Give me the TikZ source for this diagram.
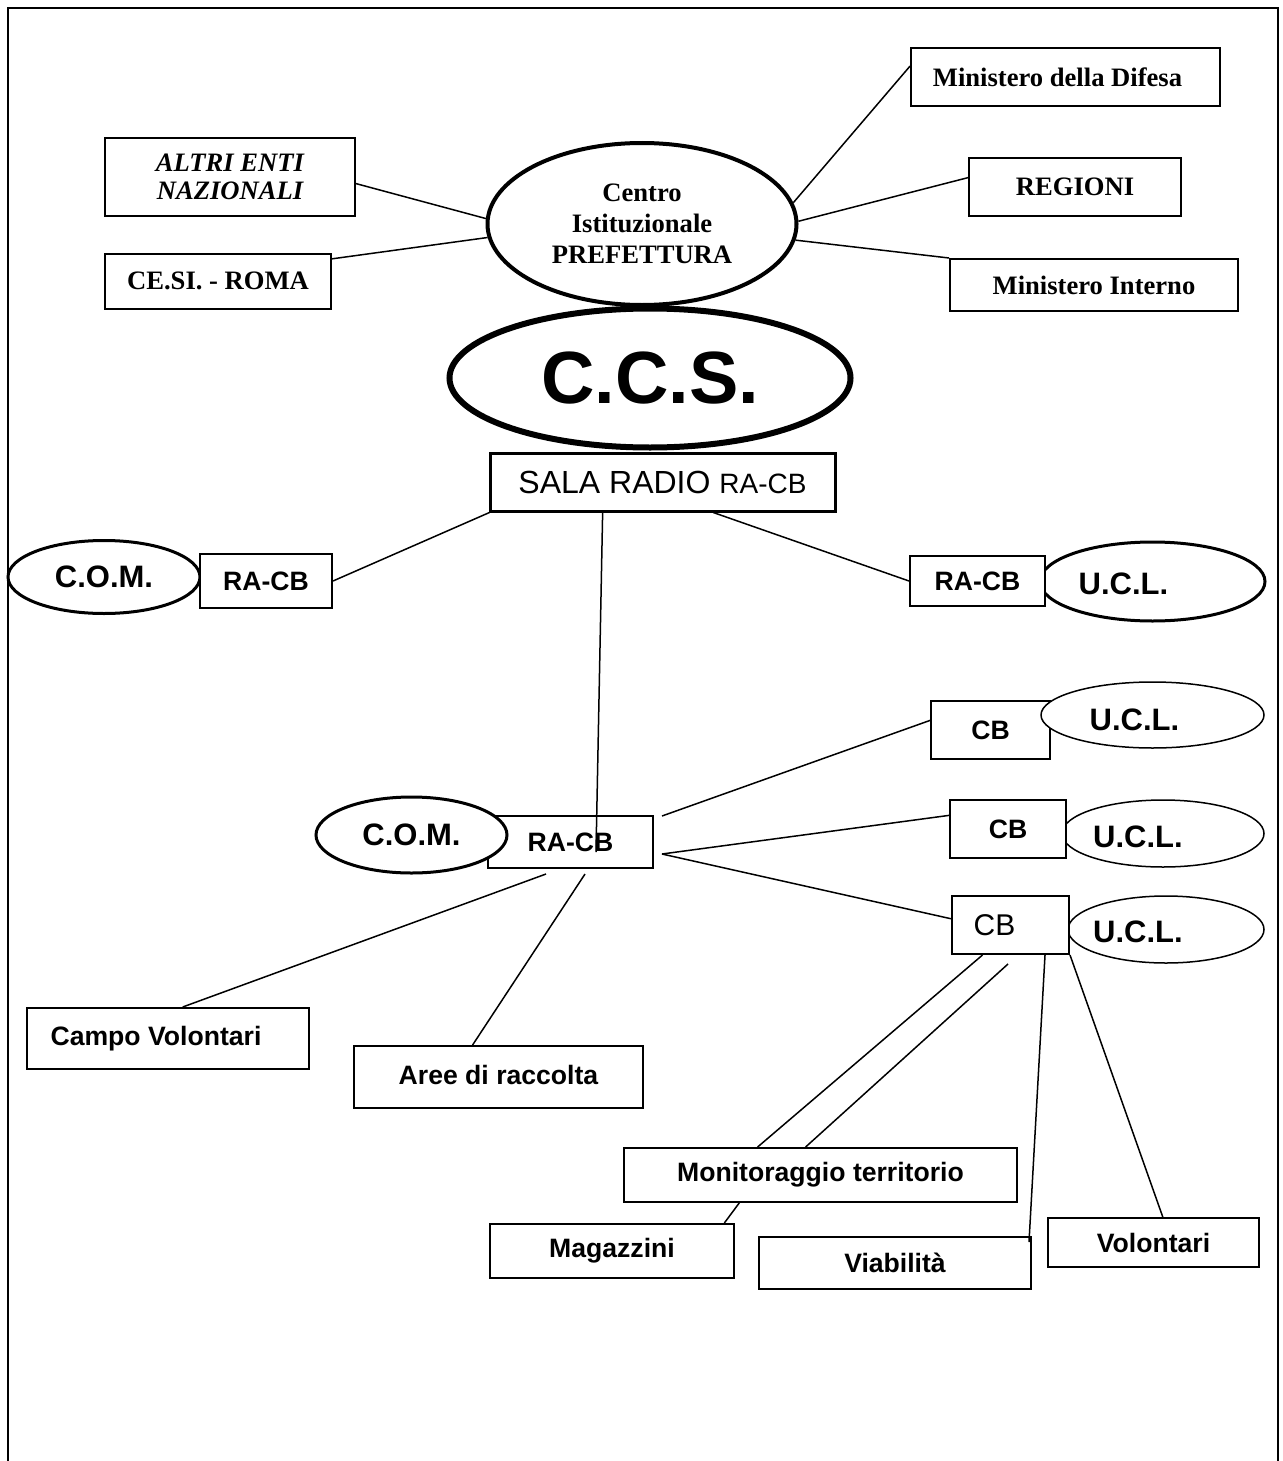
\documentclass[tikz,border=0pt]{standalone}
\usepackage{fontspec}
\setmainfont{Liberation Serif}
\newfontfamily\arialf{Liberation Sans}
\usetikzlibrary{shapes.geometric,calc}
\begin{document}
\begin{tikzpicture}[x=0.5pt,y=-0.5pt,
  box/.style={draw,line width=1pt,fill=white,inner sep=0pt,align=center},
  oval/.style={draw,ellipse,fill=white,inner sep=0pt,align=center},
  serifb/.style={font=\fontsize{13.3}{15.5}\selectfont\bfseries},
  serifbi/.style={font=\fontsize{13.3}{14}\selectfont\bfseries\itshape},
  sansb/.style={font=\arialf\fontsize{13.3}{16}\selectfont\bfseries},
  bigsans/.style={font=\arialf\fontsize{15.5}{18}\selectfont\bfseries},
  link/.style={line width=0.75pt},
]
\useasboundingbox (0,0) rectangle (1282,1461);
\draw[line width=1pt] (8,1461) -- (8,8) -- (1278,8) -- (1278,1461);

% top level
\node[box,serifb,minimum width=154.5pt,minimum height=29pt] (difesa) at (1065.5,77) {Ministero della Difesa\hspace{8pt}};
\node[box,serifb,minimum width=106pt,minimum height=29pt] (regioni) at (1075,187) {REGIONI};
\node[box,serifb,minimum width=144pt,minimum height=26pt] (interno) at (1094,285) {Ministero Interno};
\node[box,serifbi,minimum width=125pt,minimum height=38.5pt] (altri) at (230,177) {ALTRI ENTI\\NAZIONALI};
\node[box,serifb,minimum width=113pt,minimum height=27.5pt] (cesi) at (218,281) {CE.SI. - ROMA};
\node[oval,line width=2pt,serifb,minimum width=154.5pt,minimum height=81pt] (centro) at (642,224) {Centro\\Istituzionale\\PREFETTURA};

% C.C.S.
\node[oval,line width=3pt,font=\arialf\fontsize{37}{40}\selectfont\bfseries,minimum width=200.5pt,minimum height=69.5pt] (ccs) at (650,378) {\raisebox{-2.5pt}{C.C.S.}};
\node[box,line width=1.5pt,font=\arialf,minimum width=172.5pt,minimum height=29pt] (sala) at (662.5,482) {\fontsize{16}{19}\selectfont SALA RADIO \fontsize{14}{17}\selectfont RA-CB};

% second row
\node[oval,line width=1.5pt,bigsans,minimum width=96pt,minimum height=36.5pt] (comL) at (104,577) {\raisebox{-1pt}{C.O.M.}};
\node[box,sansb,minimum width=66pt,minimum height=27pt] (racbL) at (266,581) {RA-CB};
\node[oval,line width=1.5pt,minimum width=112.5pt,minimum height=39.5pt,label={[bigsans,xshift=-14.5pt,yshift=-1pt]center:U.C.L.}] (uclR) at (1152.5,581.5) {};
\node[box,sansb,minimum width=67.5pt,minimum height=25pt] (racbR) at (977.5,581) {RA-CB};

% middle
\node[box,sansb,minimum width=82.5pt,minimum height=26pt] (racbM) at (570.5,842) {RA-CB};
\node[oval,line width=1.5pt,bigsans,minimum width=95.5pt,minimum height=38pt] (comM) at (411.5,835) {C.O.M.};

\node[box,sansb,minimum width=59.5pt,minimum height=29pt] (cb1) at (990.5,730) {CB};
\node[oval,line width=0.75pt,minimum width=111.5pt,minimum height=33pt,label={[bigsans,xshift=-9pt,yshift=-2.5pt]center:U.C.L.}] (ucl1) at (1152.5,715) {};

\node[oval,line width=0.75pt,minimum width=101pt,minimum height=33.5pt,label={[bigsans,xshift=-12.5pt,yshift=-1.75pt]center:U.C.L.}] (ucl2) at (1163,833.5) {};
\node[box,sansb,minimum width=58pt,minimum height=29pt] (cb2) at (1008,829) {CB};

\node[oval,line width=0.75pt,minimum width=98pt,minimum height=33.5pt,label={[bigsans,xshift=-14pt,yshift=-1pt]center:U.C.L.}] (ucl3) at (1166,929.5) {};
\node[box,font=\arialf\fontsize{15}{18}\selectfont,minimum width=58.5pt,minimum height=29pt] (cb3) at (1010.5,925) {CB\hspace{16pt}};

% bottom
\node[box,sansb,minimum width=141pt,minimum height=30.5pt] (campo) at (168,1038.5) {Campo Volontari\hspace{12pt}};
\node[box,sansb,minimum width=144.5pt,minimum height=31pt] (aree) at (498.5,1077) {\raisebox{2pt}{Aree di raccolta}};
\node[box,sansb,minimum width=196.5pt,minimum height=27pt] (monit) at (820.5,1175) {Monitoraggio territorio};
\node[box,sansb,minimum width=122pt,minimum height=27pt] (magaz) at (612,1251) {Magazzini};
\node[box,sansb,minimum width=136pt,minimum height=26pt] (viab) at (895,1263) {Viabilità};
\node[box,sansb,minimum width=105.5pt,minimum height=24.5pt] (volon) at (1153.5,1242.5) {Volontari};

% free ends
\coordinate (vend) at (596,852);
\coordinate (rmt) at (662,816);
\coordinate (rm) at (662,854);
\coordinate (rmb1) at (546,874);
\coordinate (rmb2) at (585,874);
\coordinate (cb3b) at (1008,964);
\coordinate (viabend) at (1029,1242);

% connectors
\draw[link] (altri.357.7) -- (centro.178.5);
\draw[link] (cesi.11.5) -- (centro.185.6);
\draw[link] (centro.8) -- (difesa.176.3);
\draw[link] (centro.1.5) -- (regioni.175.1);
\draw[link] (centro.354.5) -- (interno.north west);
\draw[link] (sala.190.6) -- (racbL.east);
\draw[link] (sala.329.6) -- (racbR.west);
\draw[link] (sala.207.2) -- (vend);
\draw[link] (rmt) -- (cb1.171.4);
\draw[link] (rm) -- (cb2.167.4);
\draw[link] (rm) -- (cb3.174.1);
\draw[link] (rmb1) -- (campo.65.3);
\draw[link] (rmb2) -- (aree.129.4);
\draw[link] (cb3.227.5) -- (monit.156.3);
\draw[link] (cb3b) -- (monit.118.2);
\draw[link] (monit.199.2) -- (magaz.14);
\draw[link] (cb3.319.8) -- (viabend);
\draw[link] (cb3.south east) -- (volon.70.9);
\end{tikzpicture}
\end{document}
